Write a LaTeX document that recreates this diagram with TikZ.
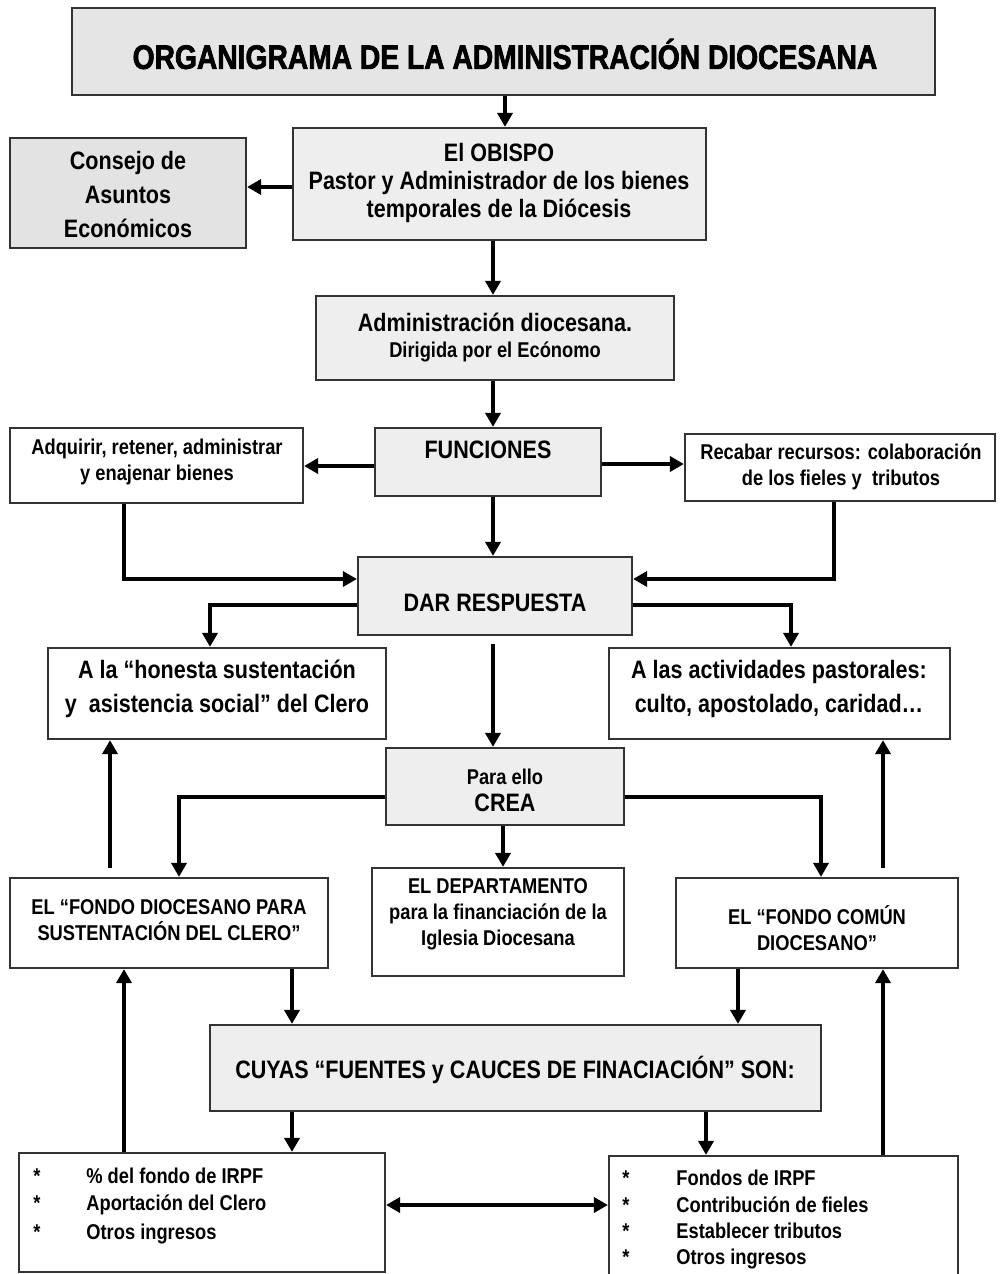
\documentclass[tikz,border=0pt]{standalone}
\usepackage{fontspec}
\setmainfont{Liberation Sans}[FakeStretch=0.855]
\newfontfamily\titlefont{Liberation Sans}[FakeStretch=0.83,BoldFeatures={FakeBold=2}]
\usetikzlibrary{arrows.meta,calc}
\tikzset{
  gbox/.style={draw=black!80, line width=1.1pt, fill=gray!13, inner sep=0pt},
  tbox/.style={draw=black!80, line width=1.1pt, fill=gray!20, inner sep=0pt},
  cbox/.style={draw=black!80, line width=1.1pt, fill=gray!22, inner sep=0pt},
  wbox/.style={draw=black!80, line width=1.1pt, fill=white, inner sep=0pt},
  big/.style={font=\bfseries\fontsize{12.6}{14}\selectfont, align=center, inner sep=0pt},
  bigw/.style={font=\bfseries\fontsize{12.6}{17}\selectfont, align=center, inner sep=0pt},
  small/.style={font=\bfseries\fontsize{10.7}{13}\selectfont, align=center, inner sep=0pt},
  ttl/.style={font=\titlefont\bfseries\fontsize{17}{19}\selectfont, inner sep=0pt},
  arr/.style={line width=2pt, -{Triangle[length=7pt,width=7.5pt]}},
  dbl/.style={line width=2pt, {Triangle[length=7pt,width=7.5pt]}-{Triangle[length=7pt,width=7.5pt]}},
}
\begin{document}
\begin{tikzpicture}[x=0.5pt,y=-0.5pt]
\clip (0,0) rectangle (1000,1274);
\fill[white] (0,0) rectangle (1000,1274);

% boxes
\node[tbox, minimum width=431.5pt, minimum height=43.5pt] (title) at (503.5,51.5) {};
\node[gbox, minimum width=206.5pt, minimum height=56pt] (obispo) at (499.5,184) {};
\node[cbox, minimum width=118pt, minimum height=55pt] (consejo) at (128,193) {};
\node[gbox, minimum width=179pt, minimum height=42pt] (admin) at (495,338) {};
\node[gbox, minimum width=113pt, minimum height=34pt] (func) at (488,462) {};
\node[wbox, minimum width=146.5pt, minimum height=37.5pt] (adq) at (156.5,465.5) {};
\node[wbox, minimum width=155pt, minimum height=33.5pt] (rec) at (840,467.5) {};
\node[gbox, minimum width=137pt, minimum height=39pt] (dar) at (495,596) {};
\node[wbox, minimum width=169pt, minimum height=45.5pt] (hon) at (217,693.5) {};
\node[wbox, minimum width=170.5pt, minimum height=45.5pt] (pas) at (779.5,693.5) {};
\node[gbox, minimum width=119pt, minimum height=38.5pt] (crea) at (505,786.5) {};
\node[wbox, minimum width=159pt, minimum height=45pt] (fdc) at (169,923) {};
\node[wbox, minimum width=126pt, minimum height=54pt] (dep) at (498,922) {};
\node[wbox, minimum width=141pt, minimum height=45pt] (fcd) at (817,923) {};
\node[gbox, minimum width=305.5pt, minimum height=43pt] (cuy) at (515.5,1068) {};
\node[wbox, minimum width=183pt, minimum height=59.5pt] (ll) at (202,1212.5) {};
\node[wbox, minimum width=174.5pt, minimum height=64.5pt] (rl) at (783.5,1220.5) {};

% texts
\node[ttl] (titleT) at (505,54) {ORGANIGRAMA DE LA ADMINISTRACIÓN DIOCESANA};
\node[big] (obispoT) at (499,183) {El OBISPO\\Pastor y Administrador de los bienes\\temporales de la Diócesis};
\node[bigw] (consejoT) at (128,194) {Consejo de\\Asuntos\\Económicos};
\node[big] (adminT) at (495,322) {Administración diocesana.};
\node[small] (adminT2) at (495,352) {Dirigida por el Ecónomo};
\node[big] (funcT) at (488,450) {FUNCIONES};
\node[small] (adqT) at (157,462) {Adquirir, retener, administrar\\y enajenar bienes};
\node[small] (recT) at (841,467) {Recabar recursos: colaboración\\de los fieles y\ \ tributos};
\node[big] (darT) at (495,603) {DAR RESPUESTA};
\node[bigw] (honT) at (217,689) {A la “honesta sustentación\\y\ \ asistencia social” del Clero};
\node[bigw] (pasT) at (779,689) {A las actividades pastorales:\\culto, apostolado, caridad…};
\node[small] (creaT1) at (505,777) {Para ello};
\node[big] (creaT2) at (505,803) {CREA};
\node[small] (fdcT) at (169,920) {EL “FONDO DIOCESANO PARA\\SUSTENTACIÓN DEL CLERO”};
\node[small] (depT) at (498,914) {EL DEPARTAMENTO\\para la financiación de la\\Iglesia Diocesana};
\node[small] (fcdT) at (817,928) {EL “FONDO COMÚN\\DIOCESANO”};
\node[big] (cuyT) at (515,1070) {CUYAS “FUENTES y CAUCES DE FINACIACIÓN” SON:};
\node[small, anchor=west, align=left] (llT) at (33,1206)
  {\begin{tabular}{@{}p{26.5pt}@{}l@{}}
   {*}&\% del fondo de IRPF\\[0.3pt]
   {*}&Aportación del Clero\\[1.5pt]
   {*}&Otros ingresos
   \end{tabular}};
\node[small, anchor=west, align=left] (rlT) at (622,1219.5)
  {\begin{tabular}{@{}p{27pt}@{}l@{}}
   {*}&Fondos de IRPF\\[0.5pt]
   {*}&Contribución de fieles\\[0pt]
   {*}&Establecer tributos\\[0pt]
   {*}&Otros ingresos
   \end{tabular}};

% connectors
\draw[arr] (title.south -| 505,0) -- (obispo.north -| 505,0);
\draw[arr] (obispo.west |- 0,187) -- (consejo.east |- 0,187);
\draw[arr] (obispo.south -| 493,0) -- (admin.north -| 493,0);
\draw[arr] (admin.south -| 493,0) -- (func.north -| 493,0);
\draw[arr] (func.west |- 0,466) -- (adq.east |- 0,466);
\draw[arr] (func.east |- 0,464) -- (rec.west |- 0,464);
\draw[arr] (func.south -| 493,0) -- (dar.north -| 493,0);
\draw[arr] (adq.south -| 124,0) |- (dar.west |- 0,579);
\draw[arr] (rec.south -| 834,0) |- (dar.east |- 0,579);
\draw[arr] (dar.west |- 0,605) -| (hon.north -| 210,0);
\draw[arr] (dar.east |- 0,605) -| (pas.north -| 791,0);
\draw[arr] ($(dar.south -| 493,0)+(0,8)$) -- (crea.north -| 493,0);
\draw[arr] (crea.west |- 0,797) -| (fdc.north -| 179,0);
\draw[arr] (crea.south -| 503,0) -- (dep.north -| 503,0);
\draw[arr] (crea.east |- 0,797) -| (fcd.north -| 821,0);
\draw[arr] ($(fdc.north -| 110,0)+(0,-9)$) -- (hon.south -| 110,0);
\draw[arr] ($(fcd.north -| 883,0)+(0,-9)$) -- (pas.south -| 883,0);
\draw[arr] (fdc.south -| 292,0) -- (cuy.north -| 292,0);
\draw[arr] (fcd.south -| 738,0) -- (cuy.north -| 738,0);
\draw[arr] (cuy.south -| 292,0) -- (ll.north -| 292,0);
\draw[arr] (cuy.south -| 706,0) -- (rl.north -| 706,0);
\draw[arr] (ll.north -| 124,0) -- (fdc.south -| 124,0);
\draw[arr] (rl.north -| 883,0) -- (fcd.south -| 883,0);
\draw[dbl] (ll.east |- 0,1205) -- (rl.west |- 0,1205);
\end{tikzpicture}
\end{document}
